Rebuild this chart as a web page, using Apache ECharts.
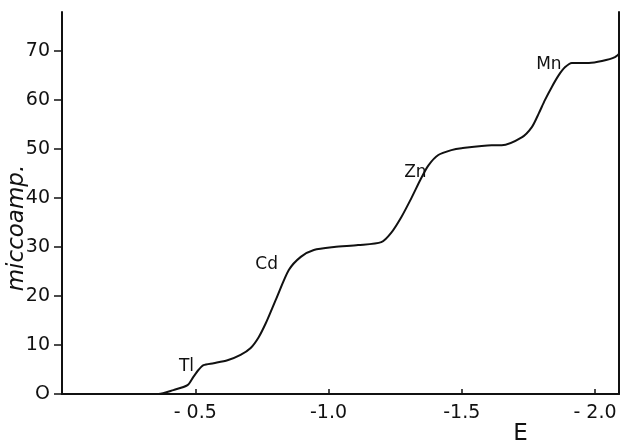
<!DOCTYPE html>
<html>
<head>
<meta charset="utf-8">
<script src="https://cdn.jsdelivr.net/npm/echarts@6/dist/echarts.min.js"></script>
<style>
html,body{margin:0;padding:0;background:#fff;}
#c{width:623px;height:443px;}
</style>
</head>
<body>
<div id="c"></div>
<script>
// Polarogram: potential E (V) vs current (microamp.)
var potential = [0, -0.10, -0.20, -0.30, -0.362, -0.418, -0.471, -0.493, -0.512, -0.531, -0.569, -0.621, -0.670, -0.708, -0.738, -0.765, -0.791, -0.802, -0.851, -0.896, -0.945, -1.021, -1.111, -1.198, -1.235, -1.273, -1.311, -1.348, -1.375, -1.412, -1.461, -1.499, -1.612, -1.650, -1.725, -1.763, -1.789, -1.812, -1.838, -1.864, -1.887, -1.913, -1.977, -2.026, -2.075, -2.098];
var current   = [0, 0, 0, 0, 0, 0.8, 1.8, 3.5, 4.9, 5.9, 6.3, 6.9, 8.0, 9.4, 11.6, 14.5, 17.8, 19.2, 25.3, 28.0, 29.4, 30.0, 30.4, 31.0, 32.9, 36.1, 40.0, 44.1, 46.7, 48.8, 49.8, 50.2, 50.8, 50.8, 52.4, 54.5, 57.3, 60.0, 62.7, 65.1, 66.7, 67.6, 67.6, 68.0, 68.8, 69.8];

var waveNames = ['Tl', 'Cd', 'Zn', 'Mn'];
var waveE     = [-0.467, -0.768, -1.326, -1.827];
var waveI     = [5.5, 26.5, 45.3, 67.3];

var xTicks = [-0.5, -1.0, -1.5, -2.0];
var xTickLabels = ['- 0.5', '-1.0', '-1.5', '- 2.0'];
var yTicks = [0, 10, 20, 30, 40, 50, 60, 70];
var yTickLabels = ['O', '10', '20', '30', '40', '50', '60', '70'];

var ink = '#111111';
var font = 'DejaVu Sans';

var chart = echarts.init(document.getElementById('c'));
chart.setOption({
  animation: false,
  backgroundColor: '#ffffff',
  grid: {left: 62, right: 4, top: 12, bottom: 49, containLabel: false, outerBoundsMode: 'none'},
  xAxis: {
    type: 'value', inverse: true, min: -2.09, max: 0,
    name: 'E', nameLocation: 'middle', nameGap: 29, nameMoveOverlap: false,
    nameTextStyle: {fontFamily: font, fontSize: 23, color: ink, padding: [0, 0, 0, 360]},
    axisLine: {show: true, onZero: false, lineStyle: {color: ink, width: 2}},
    axisTick: {show: true, inside: true, length: 5, customValues: xTicks, lineStyle: {color: ink, width: 1.5}},
    axisLabel: {
      customValues: xTicks, margin: 10, fontFamily: font, fontSize: 19, color: ink,
      formatter: function (v) { var k = xTicks.indexOf(v); return k >= 0 ? xTickLabels[k] : ''; }
    },
    splitLine: {show: false}
  },
  yAxis: [{
    type: 'value', min: 0, max: 78,
    axisLine: {show: true, onZero: false, lineStyle: {color: ink, width: 2}},
    axisTick: {show: true, length: 8, customValues: yTicks, lineStyle: {color: ink, width: 1.5}},
    axisLabel: {
      customValues: yTicks, margin: 12, fontFamily: font, fontSize: 19, color: ink,
      formatter: function (v) { var k = yTicks.indexOf(v); return k >= 0 ? yTickLabels[k] : ''; }
    },
    splitLine: {show: false}
  }, {
    type: 'value', min: 0, max: 78, position: 'right',
    axisLine: {show: true, onZero: false, lineStyle: {color: ink, width: 2}},
    axisTick: {show: false}, axisLabel: {show: false}, splitLine: {show: false}
  }],
  graphic: [{
    type: 'text', x: 17, y: 228, rotation: Math.PI / 2,
    style: {text: 'miccoamp.', font: 'italic 23px "DejaVu Sans"', fill: ink, textAlign: 'center', textVerticalAlign: 'middle'}
  }],
  series: [{
    type: 'line',
    data: potential.map(function (e, i) { return [e, current[i]]; }),
    showSymbol: false, smooth: 0.25, clip: true,
    lineStyle: {color: ink, width: 2}
  }, {
    type: 'scatter',
    data: waveE.map(function (e, i) { return [e, waveI[i], waveNames[i]]; }),
    symbolSize: 0,
    itemStyle: {opacity: 1, color: ink},
    label: {
      show: true, position: 'inside', formatter: function (p) { return p.data[2]; },
      fontFamily: font, fontSize: 17, color: ink, opacity: 1
    }
  }]
});
</script>
</body>
</html>
